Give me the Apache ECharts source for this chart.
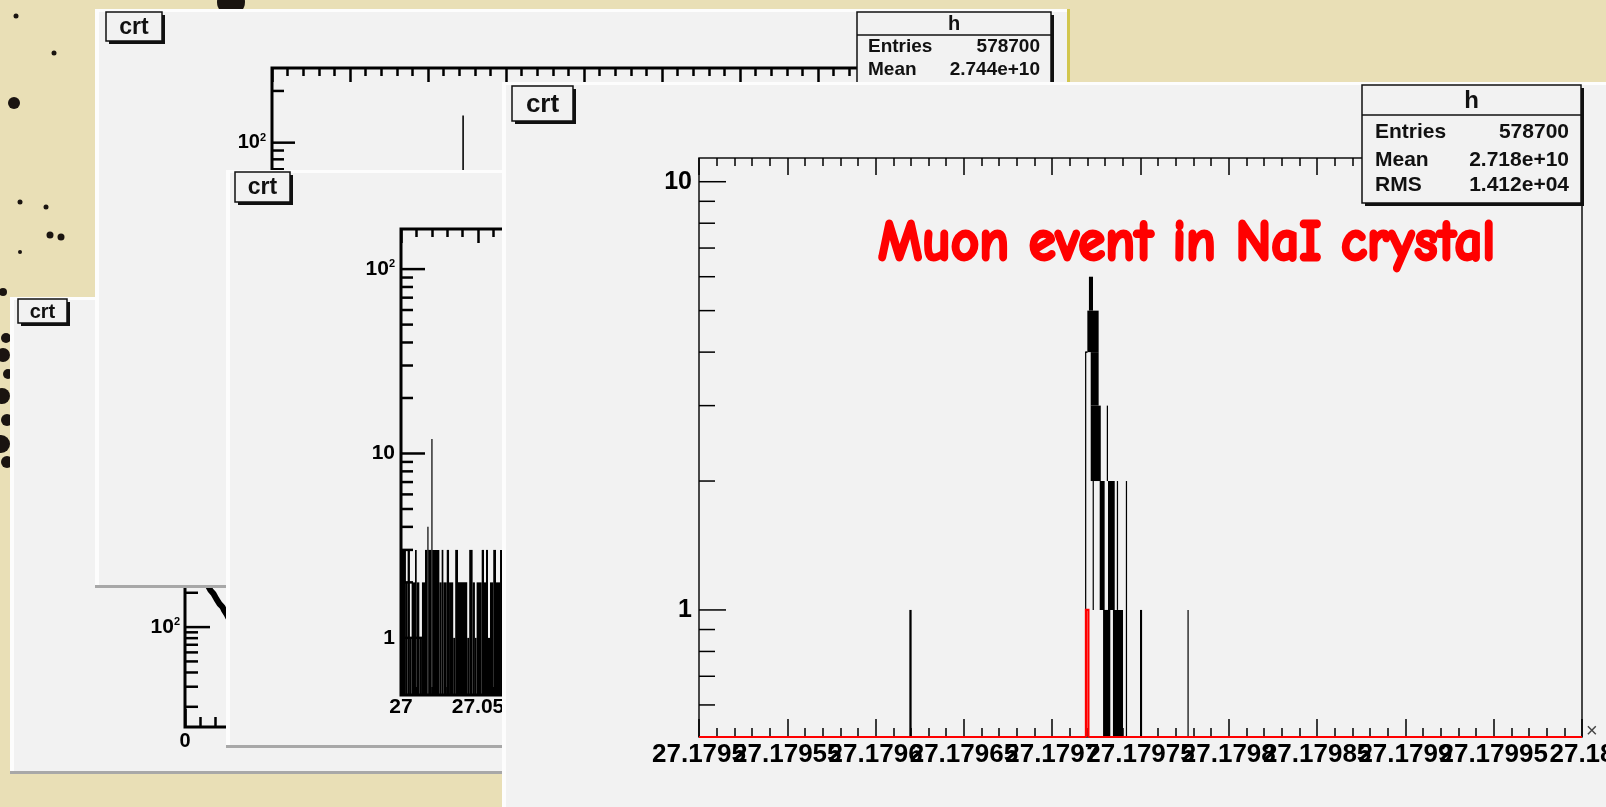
<!DOCTYPE html>
<html><head><meta charset="utf-8">
<script src="https://cdn.jsdelivr.net/npm/echarts@6/dist/echarts.min.js"></script>
<style>html,body{margin:0;padding:0;background:#e9dfb6;}#c{width:1606px;height:807px;}</style>
</head><body><div id="c"></div><script>
// ================= DATA =================
// Front histogram (Muon event), x in axis units, counts
const frontXMin = 27.1795, frontXMax = 27.18, frontXStep = 0.00005;
const frontYMin = 0.505, frontYMax = 11.36;
const frontXTickValues = [27.1795, 27.17955, 27.1796, 27.17965, 27.1797, 27.17975, 27.1798, 27.17985, 27.1799, 27.17995, 27.18];
const frontXTickLabels = ['27.1795', '27.17955', '27.1796', '27.17965', '27.1797', '27.17975', '27.1798', '27.17985', '27.1799', '27.17995', '27.18'];
const frontYMajorTicks = [1, 10];
const frontYMinorTicks = [0.6, 0.7, 0.8, 0.9, 2, 3, 4, 5, 6, 7, 8, 9];
// black histogram drawn as blocks: [xStart, xEnd, countLow, countHigh] (countLow 0 = axis bottom)
const frontBlackBlocks = [
  [27.1796191, 27.1796204, 0, 1],
  [27.1797186, 27.1797193, 0, 4],
  [27.1797187, 27.1797200, 4, 4],
  [27.1797199, 27.1797263, 4, 5],
  [27.1797208, 27.1797231, 5, 6],
  [27.1797218, 27.1797263, 3, 4],
  [27.1797218, 27.1797275, 2, 3],
  [27.1797229, 27.1797235, 1, 2],
  [27.1797269, 27.1797297, 1, 2],
  [27.1797316, 27.1797354, 1, 2],
  [27.1797309, 27.1797316, 2, 3],
  [27.1797366, 27.1797373, 1, 2],
  [27.1797417, 27.1797424, 0, 2],
  [27.1797288, 27.1797329, 0, 1],
  [27.1797344, 27.1797401, 0, 1],
  [27.1797497, 27.1797509, 0, 1],
  [27.1797766, 27.1797772, 0, 1]
];
// red histogram: bin edges and counts
const frontRedEdges = [27.1795, 27.1797191, 27.1797205, 27.18];
const frontRedCounts = [0, 1, 0];
const frontStats = [['Entries', '578700'], ['Mean', '2.718e+10'], ['RMS', '1.412e+04']];

// Panel 2 (back, top)
const p2XMin = 0, p2XMax = 10, p2XStep = 1;
const p2YMin = 0.5, p2YMax = 272;
const p2YMajorTicks = [1, 10, 100];
const p2YMinorTicks = [2, 3, 4, 5, 6, 7, 8, 9, 20, 30, 40, 50, 60, 70, 80, 90, 200];
const p2Bins = [[2.44, 2.46, 0, 144]];
const p2Stats = [['Entries', '578700'], ['Mean', '2.744e+10']];

// Panel 3 (middle)
const p3XMin = 27, p3XMax = 27.4, p3XStep = 0.05;
const p3YMin = 0.49, p3YMax = 165;
const p3YMajorTicks = [1, 10, 100];
const p3YMinorTicks = [2, 3, 4, 5, 6, 7, 8, 9, 20, 30, 40, 50, 60, 70, 80, 90];
const p3Bins = [
  [27.0000, 27.0032, 3], [27.0032, 27.0043, 2], [27.0043, 27.0058, 3], [27.0058, 27.0069, 1],
  [27.0069, 27.0091, 2], [27.0091, 27.0102, 3], [27.0102, 27.0119, 2], [27.0119, 27.0136, 1],
  [27.0136, 27.0156, 2], [27.0156, 27.0171, 3], [27.0171, 27.0177, 4], [27.0177, 27.0197, 3],
  [27.0197, 27.0203, 12], [27.0203, 27.0249, 3], [27.0249, 27.0264, 2], [27.0264, 27.0275, 3],
  [27.0275, 27.0297, 2], [27.0297, 27.0312, 3], [27.0312, 27.0339, 2], [27.0339, 27.0352, 1],
  [27.0352, 27.0370, 3], [27.0370, 27.0430, 2], [27.0430, 27.0443, 1], [27.0443, 27.0465, 3],
  [27.0465, 27.0480, 2], [27.0480, 27.0491, 1], [27.0491, 27.0524, 2], [27.0524, 27.0539, 3],
  [27.0539, 27.0552, 2], [27.0552, 27.0565, 3], [27.0565, 27.0578, 1], [27.0578, 27.0599, 2],
  [27.0599, 27.0617, 3], [27.0617, 27.0643, 2], [27.0643, 27.0680, 3]
];

// Panel 4 (back, lower left)
const p4XMin = 0, p4XMax = 1, p4XStep = 0.25;
const p4YMin = 13.3, p4YMax = 3575;
const p4YMajorTicks = [100, 1000];
const p4YMinorTicks = [20, 30, 40, 50, 60, 70, 80, 90, 200, 300, 400, 500, 600, 700, 800, 900, 2000, 3000];
const p4X = [0.070, 0.075, 0.080, 0.085, 0.090, 0.095, 0.100, 0.105, 0.110, 0.115, 0.120, 0.125, 0.130, 0.135, 0.140, 0.145];
const p4Y = [260, 235, 242, 210, 218, 196, 190, 176, 182, 160, 158, 150, 141, 139, 128, 120];

// ================= HELPERS =================
const FONT = '"Liberation Sans", Arial, Helvetica, sans-serif';
const trim = (v, d) => (+v).toFixed(d).replace(/0+$/, '').replace(/\.$/, '');

function logLabel(big, small, margin) {
  return {
    show: true, margin: margin, showMinLabel: true, showMaxLabel: true,
    formatter: v => {
      const e = Math.log10(v), r = Math.round(e);
      if (Math.abs(e - r) > 1e-6) return '';
      if (r === 0) return '{b|1}';
      if (r === 1) return '{b|10}';
      return '{b|10}{s|' + r + '}';
    },
    rich: {
      b: { fontSize: big, fontWeight: 'bold', fontFamily: FONT, color: '#000' },
      s: { fontSize: small, fontWeight: 'bold', fontFamily: FONT, color: '#000', verticalAlign: 'top', lineHeight: big }
    },
    fontSize: big, fontWeight: 'bold', fontFamily: FONT, color: '#000'
  };
}

function blockRender(yMin) {
  return (params, api) => {
    const x0 = api.value(0), x1 = api.value(1), lo = api.value(2), hi = api.value(3);
    const a = api.coord([x0, hi]);
    const b = api.coord([x1, lo > 0 ? lo : yMin]);
    const w = Math.max(b[0] - a[0], 1.2);
    let y = a[1], h = b[1] - a[1];
    if (h < 1.6) { y -= 0.8; h = 1.6; }
    return { type: 'rect', shape: { x: a[0], y: y, width: w, height: h }, style: { fill: '#000' } };
  };
}

function tickSeries(xIdx, yIdx, xMin, values, len, lw, zl) {
  return {
    type: 'custom', xAxisIndex: xIdx, yAxisIndex: yIdx, zlevel: zl, z: 6, silent: true,
    data: values.map(v => [xMin, v]),
    renderItem: (params, api) => {
      const p = api.coord([api.value(0), api.value(1)]);
      return { type: 'line', shape: { x1: p[0], y1: p[1], x2: p[0] + len, y2: p[1] }, style: { stroke: '#000', lineWidth: lw } };
    }
  };
}

function xAxisCfg(grid, min, max, step, pos, zl, tickLen, minorLen, lw, label) {
  return {
    type: 'value', gridIndex: grid, min: min, max: max, interval: step, position: pos, zlevel: zl, z: 6,
    axisLine: { show: false }, splitLine: { show: false },
    axisTick: { show: true, inside: true, length: tickLen, lineStyle: { color: '#000', width: lw } },
    minorTick: { show: true, splitNumber: 5, length: minorLen, lineStyle: { color: '#000', width: lw } },
    axisLabel: label || { show: false }
  };
}

function yAxisCfg(grid, min, max, zl, label) {
  return {
    type: 'log', logBase: 10, gridIndex: grid, min: min, max: max, zlevel: zl, z: 6,
    axisLine: { show: false }, axisTick: { show: false }, splitLine: { show: false }, minorTick: { show: false },
    axisLabel: label
  };
}

// decorative panel frames (ROOT canvases)
function panelEls(x, y, w, h, zl) {
  return [
    { type: 'rect', zlevel: zl, z: 0, shape: { x: x, y: y, width: w, height: h }, style: { fill: '#fdfdfd' } },
    { type: 'rect', zlevel: zl, z: 0, shape: { x: x + 4, y: y + 3, width: w - 4, height: h - 6 }, style: { fill: '#f2f2f2' } },
    { type: 'rect', zlevel: zl, z: 0, shape: { x: x, y: y + h - 3, width: w, height: 3 }, style: { fill: '#a8a8a8' } }
  ];
}
function crtEls(x, y, w, h, fs, zl) {
  return [
    { type: 'rect', zlevel: zl, z: 20, shape: { x: x + 3, y: y + 3, width: w, height: h }, style: { fill: '#111' } },
    { type: 'rect', zlevel: zl, z: 21, shape: { x: x, y: y, width: w, height: h }, style: { fill: '#f2f2f2', stroke: '#111', lineWidth: 1.5 } },
    { type: 'text', zlevel: zl, z: 22, x: x + w / 2, y: y + h / 2 + 1,
      style: { text: 'crt', fill: '#111', fontSize: fs, fontWeight: 'bold', fontFamily: FONT,
        textAlign: 'center', align: 'center', textVerticalAlign: 'middle', verticalAlign: 'middle' } }
  ];
}
function statsEls(x, y, w, h, headH, hSize, rows, rowY, fs, padL, padR, zl) {
  const els = [
    { type: 'rect', zlevel: zl, z: 20, shape: { x: x + 3, y: y + 3, width: w, height: h }, style: { fill: '#111' } },
    { type: 'rect', zlevel: zl, z: 21, shape: { x: x, y: y, width: w, height: h }, style: { fill: '#f2f2f2', stroke: '#111', lineWidth: 1.5 } },
    { type: 'line', zlevel: zl, z: 22, shape: { x1: x, y1: y + headH, x2: x + w, y2: y + headH }, style: { stroke: '#111', lineWidth: 1.5 } },
    { type: 'text', zlevel: zl, z: 22, x: x + w / 2, y: y + headH / 2 + 1,
      style: { text: 'h', fill: '#111', fontSize: hSize, fontWeight: 'bold', fontFamily: FONT,
        textAlign: 'center', align: 'center', textVerticalAlign: 'middle', verticalAlign: 'middle' } }
  ];
  rows.forEach((r, i) => {
    els.push({ type: 'text', zlevel: zl, z: 22, x: x + padL, y: y + rowY[i],
      style: { text: r[0], fill: '#111', fontSize: fs, fontWeight: 'bold', fontFamily: FONT,
        textAlign: 'left', align: 'left', textVerticalAlign: 'middle', verticalAlign: 'middle' } });
    els.push({ type: 'text', zlevel: zl, z: 22, x: x + w - padR, y: y + rowY[i],
      style: { text: r[1], fill: '#111', fontSize: fs, fontWeight: 'bold', fontFamily: FONT,
        textAlign: 'right', align: 'right', textVerticalAlign: 'middle', verticalAlign: 'middle' } });
  });
  return els;
}

// ink spots on the paper background
const inkSpots = [[16, 16, 2.5], [54, 53, 2.5], [14, 103, 6], [20, 202, 2.5], [46, 207, 2.5], [50, 235, 3.5], [61, 237, 3.5],
  [20, 252, 2], [231, 2, 14], [3, 292, 4], [6, 338, 5], [3, 355, 7], [8, 374, 5], [2, 396, 8], [7, 420, 6], [1, 444, 9], [7, 462, 6]];

const graphicEls = [];
inkSpots.forEach(s => graphicEls.push({ type: 'circle', zlevel: 0, z: 1, shape: { cx: s[0], cy: s[1], r: s[2] }, style: { fill: '#1a1410' } }));
// panel 4
graphicEls.push(...panelEls(10, 297, 620, 477, 1), ...crtEls(18, 299, 49, 24, 20, 1));
// panel 2
graphicEls.push(...panelEls(95, 9, 974, 579, 2), ...crtEls(106, 12, 56, 29, 23, 2));
graphicEls.push({ type: 'rect', zlevel: 2, z: 1, shape: { x: 1067, y: 9, width: 3, height: 76 }, style: { fill: '#d2c64e' } });
graphicEls.push(...statsEls(857, 12, 194, 120, 23, 20, p2Stats, [35, 58], 19, 11, 11, 2));
// panel 3
graphicEls.push(...panelEls(226, 170, 700, 578, 3), ...crtEls(235, 172, 55, 30, 23, 3));
// front panel
graphicEls.push(...panelEls(502, 82, 1120, 740, 4), ...crtEls(512, 86, 61, 35, 26, 4));
graphicEls.push(...statsEls(1362, 85, 219, 118, 30, 24, frontStats, [47, 75, 100], 21, 13, 12, 4));
graphicEls.push({ type: 'text', zlevel: 4, z: 30, x: 878, y: 243, scaleY: 1.08,
  style: { text: 'Muon event in NaI crystal', fill: '#ff0000', stroke: '#ff0000', lineWidth: 2.6, fontSize: 55, fontWeight: 'bold',
    fontFamily: '"Comic Sans MS", "Comic Neue", "Noto Sans", sans-serif',
    textAlign: 'left', align: 'left', textVerticalAlign: 'middle', verticalAlign: 'middle' } });
graphicEls.push({ type: 'text', zlevel: 4, z: 30, x: 1586, y: 731,
  style: { text: '×', fill: '#444', fontSize: 20, fontFamily: FONT, textAlign: 'left', align: 'left', textVerticalAlign: 'middle', verticalAlign: 'middle' } });

// ================= OPTION =================
const option = {
  animation: false,
  backgroundColor: '#e9dfb6',
  graphic: { elements: graphicEls },
  grid: [
    { left: 699, top: 158, width: 883, height: 579, show: true, borderColor: '#111', borderWidth: 1.5, backgroundColor: 'transparent', zlevel: 4, z: 5 },
    { left: 272, top: 68, width: 780, height: 470, show: true, borderColor: '#000', borderWidth: 3, backgroundColor: 'transparent', zlevel: 2, z: 5 },
    { left: 401, top: 229, width: 616, height: 466, show: true, borderColor: '#000', borderWidth: 3, backgroundColor: 'transparent', zlevel: 3, z: 5 },
    { left: 185, top: 450, width: 300, height: 277, show: true, borderColor: '#000', borderWidth: 3, backgroundColor: 'transparent', zlevel: 1, z: 5 }
  ],
  xAxis: [
    xAxisCfg(0, frontXMin, frontXMax, frontXStep, 'bottom', 4, 18, 9, 1.5, null),
    xAxisCfg(0, frontXMin, frontXMax, frontXStep, 'top', 4, 17, 8, 1.5, null),
    xAxisCfg(1, p2XMin, p2XMax, p2XStep, 'top', 2, 14, 8, 2.5, null),
    xAxisCfg(2, p3XMin, p3XMax, p3XStep, 'bottom', 3, 14, 8, 2.5,
      { show: true, margin: 2, fontSize: 21, fontWeight: 'bold', fontFamily: FONT, color: '#000', hideOverlap: false,
        showMinLabel: true, formatter: v => trim(v, 2) }),
    xAxisCfg(2, p3XMin, p3XMax, p3XStep, 'top', 3, 14, 8, 2.5, null),
    xAxisCfg(3, p4XMin, p4XMax, p4XStep, 'bottom', 1, 18, 10, 2.5,
      { show: true, margin: 4, fontSize: 20, fontWeight: 'bold', fontFamily: FONT, color: '#000', showMinLabel: true, formatter: v => trim(v, 2) })
  ],
  yAxis: [
    yAxisCfg(0, frontYMin, frontYMax, 4, logLabel(25, 14, 7)),
    yAxisCfg(1, p2YMin, p2YMax, 2, logLabel(20, 11, 6)),
    yAxisCfg(2, p3YMin, p3YMax, 3, logLabel(21, 11, 6)),
    yAxisCfg(3, p4YMin, p4YMax, 1, logLabel(21, 11, 5))
  ],
  series: [
    // front
    { type: 'custom', xAxisIndex: 0, yAxisIndex: 0, zlevel: 4, z: 7, silent: true,
      data: frontBlackBlocks, renderItem: blockRender(frontYMin) },
    { type: 'custom', xAxisIndex: 0, yAxisIndex: 0, zlevel: 4, z: 8, silent: true,
      data: frontRedCounts.map((c, i) => [frontRedEdges[i], frontRedEdges[i + 1], c]),
      renderItem: (params, api) => {
        const x0 = api.value(0), x1 = api.value(1), c = api.value(2);
        const b0 = api.coord([x0, frontYMin]), b1 = api.coord([x1, frontYMin]);
        let pts;
        if (c > 0) {
          const t0 = api.coord([x0, c]), t1 = api.coord([x1, c]);
          pts = [b0, t0, t1, b1];
        } else pts = [b0, b1];
        return { type: 'polyline', shape: { points: pts }, style: { stroke: '#ff0000', lineWidth: 2.2, fill: null } };
      } },
    // front x tick labels (ROOT draws them all, overlapping)
    { type: 'custom', xAxisIndex: 0, yAxisIndex: 0, zlevel: 4, z: 9, silent: true,
      data: frontXTickValues.map((v, i) => [v, frontYMin, i]),
      renderItem: (params, api) => {
        const p = api.coord([api.value(0), api.value(1)]);
        return { type: 'text', x: p[0], y: p[1] + 5,
          style: { text: frontXTickLabels[api.value(2)], fill: '#000', fontSize: 26, fontWeight: 'bold', fontFamily: FONT,
            textAlign: 'center', align: 'center', textVerticalAlign: 'top', verticalAlign: 'top' } };
      } },
    tickSeries(0, 0, frontXMin, frontYMajorTicks, 27, 1.5, 4),
    tickSeries(0, 0, frontXMin, frontYMinorTicks, 16, 1.5, 4),
    // panel 2
    { type: 'custom', xAxisIndex: 2, yAxisIndex: 1, zlevel: 2, z: 7, silent: true, data: p2Bins, renderItem: blockRender(p2YMin) },
    tickSeries(2, 1, p2XMin, p2YMajorTicks, 23, 2.5, 2),
    tickSeries(2, 1, p2XMin, p2YMinorTicks, 12, 2.5, 2),
    // panel 3
    { type: 'custom', xAxisIndex: 3, yAxisIndex: 2, zlevel: 3, z: 7, silent: true,
      data: p3Bins.map(b => [b[0], b[1], 0, b[2]]), renderItem: blockRender(p3YMin) },
    tickSeries(3, 2, p3XMin, p3YMajorTicks, 24, 2.5, 3),
    tickSeries(3, 2, p3XMin, p3YMinorTicks, 12, 2.5, 3),
    // panel 4
    { type: 'line', xAxisIndex: 5, yAxisIndex: 3, zlevel: 1, z: 7, silent: true, symbol: 'none',
      data: p4X.map((x, i) => [x, p4Y[i]]), lineStyle: { color: '#000', width: 6 } },
    tickSeries(5, 3, p4XMin, p4YMajorTicks, 25, 2.5, 1),
    tickSeries(5, 3, p4XMin, p4YMinorTicks, 13, 2.5, 1)
  ]
};

const chart = echarts.init(document.getElementById('c'), null, { renderer: 'canvas' });
chart.setOption(option);
</script></body></html>
